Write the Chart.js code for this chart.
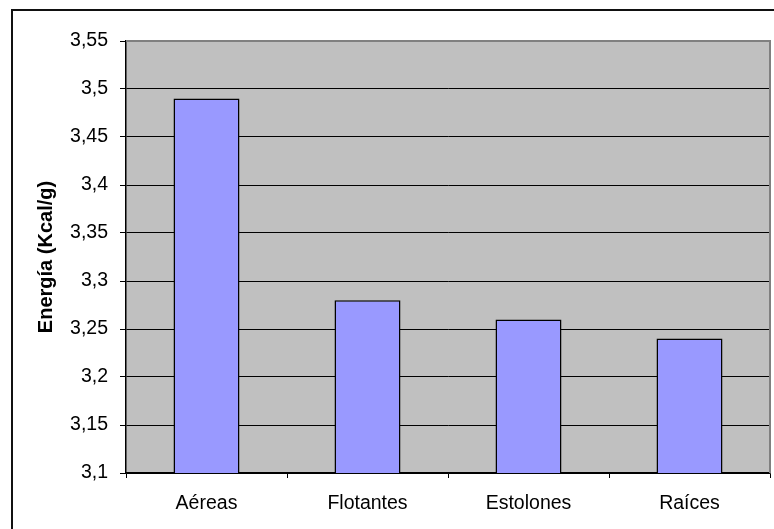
<!DOCTYPE html>
<html>
<head>
<meta charset="utf-8">
<script src="https://cdn.jsdelivr.net/npm/chart.js@4/dist/chart.umd.min.js"></script>
<style>
  html, body { margin: 0; padding: 0; background: #ffffff; }
  #wrap { width: 774px; height: 529px; }
</style>
</head>
<body>
<div id="wrap"><canvas id="c" width="774" height="529"></canvas></div>
<script>
// Energy content per plant fraction
const categories = ['Aéreas', 'Flotantes', 'Estolones', 'Raíces'];
const energia = [3.49, 3.28, 3.26, 3.24];
const yMin = 3.1;
const yMax = 3.55;
const yStep = 0.05;
const yTitle = 'Energía (Kcal/g)';

const FONT = '"Liberation Sans", Arial, sans-serif';

// Gray plot background, gray plot frame and outer chart border
const frame = {
  id: 'frame',
  beforeDraw(chart) {
    const { ctx, chartArea: a } = chart;
    ctx.save();
    ctx.fillStyle = '#C0C0C0';
    ctx.fillRect(a.left, a.top, a.right - a.left, a.bottom - a.top);
    ctx.restore();
  },
  afterDatasetsDraw(chart) {
    const { ctx, chartArea: a } = chart;
    ctx.save();
    ctx.strokeStyle = '#808080';
    ctx.lineWidth = 2;
    ctx.beginPath();
    ctx.moveTo(a.left, a.top);
    ctx.lineTo(a.right, a.top);
    ctx.lineTo(a.right, a.bottom);
    ctx.stroke();
    ctx.restore();
  },
  afterDraw(chart) {
    const { ctx } = chart;
    ctx.save();
    ctx.strokeStyle = '#111111';
    ctx.lineWidth = 2;
    ctx.strokeRect(12, 10, 900, 700);
    ctx.restore();
  }
};

new Chart(document.getElementById('c'), {
  type: 'bar',
  data: {
    labels: categories,
    datasets: [{
      data: energia,
      backgroundColor: '#9999FF',
      borderColor: '#000000',
      borderWidth: 1.5,
      categoryPercentage: 1,
      barPercentage: 0.41
    }]
  },
  options: {
    responsive: false,
    animation: false,
    devicePixelRatio: 1,
    layout: { padding: { top: 41, right: 4, left: 0, bottom: 0 } },
    plugins: {
      legend: { display: false },
      tooltip: { enabled: false }
    },
    scales: {
      x: {
        afterFit(s) { s.height = 56; },
        grid: {
          offset: true,
          drawOnChartArea: false,
          drawTicks: true,
          tickLength: 5,
          color: '#000000',
          lineWidth: 1
        },
        border: { display: true, color: '#000000', width: 1.5 },
        ticks: {
          color: '#000000',
          padding: 14,
          font: { family: FONT, size: 19.5 }
        }
      },
      y: {
        min: yMin,
        max: yMax,
        afterFit(s) { s.width = 126; },
        afterBuildTicks(s) {
          const t = [];
          for (let i = 0; i <= Math.round((yMax - yMin) / yStep); i++) {
            t.push({ value: +(yMin + i * yStep).toFixed(2) });
          }
          s.ticks = t;
        },
        grid: {
          color: (c) => (c.tick && Math.abs(c.tick.value - yMax) < 1e-6) ? '#808080' : '#000000',
          lineWidth: 1,
          tickLength: 6,
          tickColor: '#000000'
        },
        border: { display: true, color: '#000000', width: 1.5 },
        ticks: {
          color: '#000000',
          padding: 12,
          font: { family: FONT, size: 19.5 },
          callback: (v) => String(+v.toFixed(2)).replace('.', ',')
        },
        title: {
          display: true,
          text: yTitle,
          color: '#000000',
          font: { family: FONT, size: 20, weight: 'bold' },
          padding: { top: 34, bottom: 0 }
        }
      }
    }
  },
  plugins: [frame]
});
</script>
</body>
</html>
